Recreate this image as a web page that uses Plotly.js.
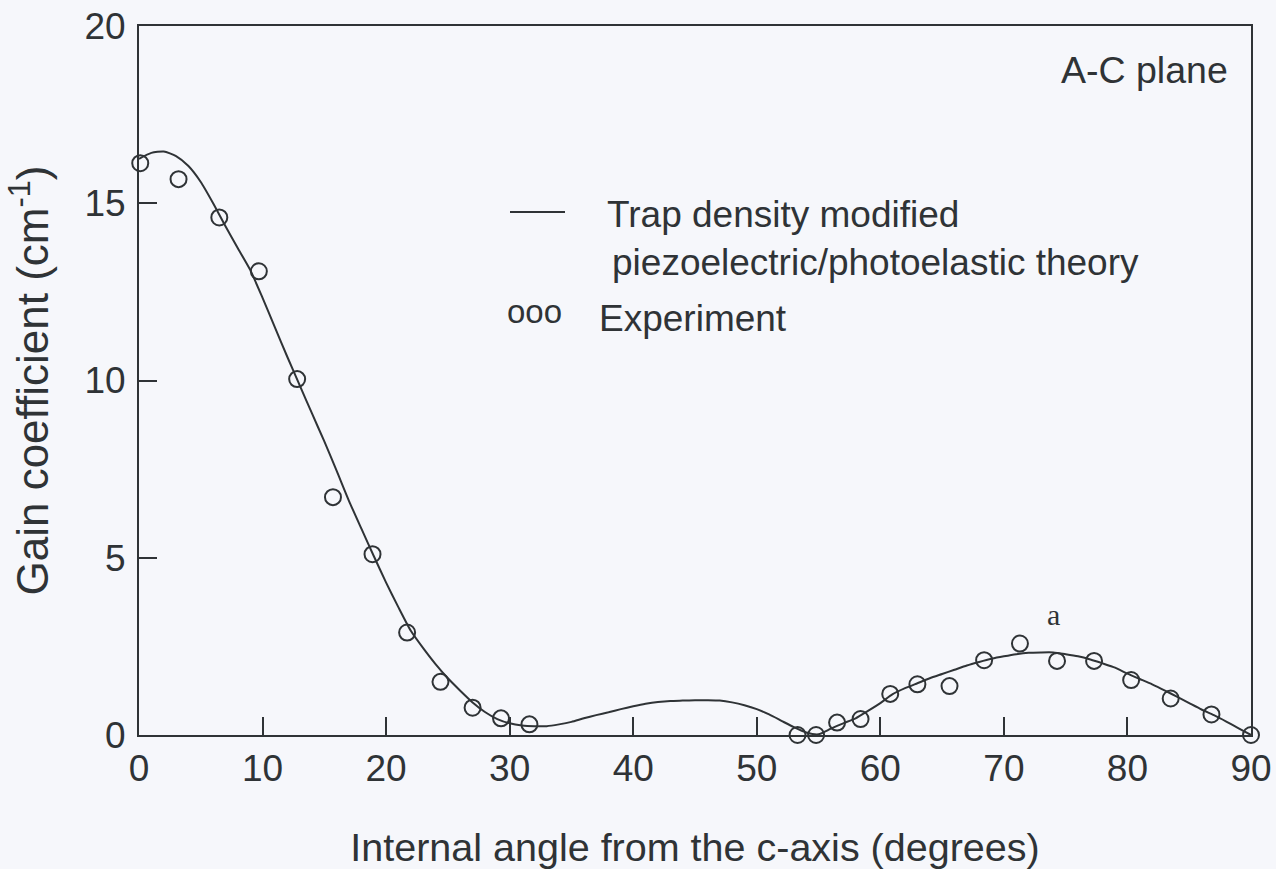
<!DOCTYPE html>
<html>
<head>
<meta charset="utf-8">
<script src="https://cdn.plot.ly/plotly-3.0.1.min.js"></script>
<style>
  html, body { margin: 0; padding: 0; background: #f6f7fb; }
  #chart { width: 1276px; height: 869px; }
</style>
</head>
<body>
<div id="chart"></div>
<script>
// Theory curve (trap density modified piezoelectric/photoelastic theory)
const theoryAngle = [0,1,2,3,4,5,6,7,8,9,10,11,12,13,14,15,16,17,18,19,20,21,22,23,24,25,26,27,28,29,30,31,32,33,34,35,36,37,38,39,40,41,42,43,44,45,46,47,48,49,50,51,52,53,54,55,56,57,58,59,60,61,62,63,64,65,66,67,68,69,70,71,72,73,74,75,76,77,78,79,80,81,82,83,84,85,86,87,88,89,90];
const theoryGain = [16.25,16.42,16.46,16.33,16.05,15.6,15.0,14.35,13.73,13.12,12.33,11.5,10.67,9.87,9.07,8.28,7.45,6.6,5.82,5.05,4.3,3.6,2.94,2.45,2.0,1.6,1.25,0.92,0.65,0.45,0.33,0.27,0.25,0.25,0.3,0.37,0.47,0.56,0.64,0.73,0.81,0.88,0.93,0.96,0.97,0.98,0.98,0.97,0.92,0.84,0.73,0.58,0.4,0.22,0.07,0.02,0.18,0.33,0.47,0.68,0.9,1.15,1.32,1.46,1.6,1.72,1.84,1.96,2.06,2.15,2.22,2.28,2.32,2.33,2.33,2.28,2.22,2.13,2.02,1.9,1.73,1.58,1.43,1.26,1.08,0.9,0.72,0.56,0.38,0.19,0.0];

// Experiment
const expAngle = [0.1,3.2,6.5,9.7,12.8,15.7,18.9,21.7,24.4,27.0,29.3,31.6,53.3,54.8,56.5,58.4,60.8,63.0,65.6,68.4,71.3,74.3,77.3,80.3,83.5,86.8,90.0];
const expGain  = [16.13,15.68,14.6,13.08,10.04,6.71,5.10,2.89,1.50,0.77,0.47,0.30,0.0,0.0,0.35,0.45,1.16,1.43,1.38,2.11,2.58,2.09,2.09,1.55,1.03,0.58,0.0];

// Tick labels
const xTicks = [0,10,20,30,40,50,60,70,80,90];
const yTicks = [0,5,10,15,20];

// Texts
const xTitle = 'Internal angle from the c-axis (degrees)';
const yTitle = 'Gain coefficient (cm<sup>-1</sup>)';
const planeLabel = 'A-C plane';
const theoryName1 = 'Trap density modified';
const theoryName2 = 'piezoelectric/photoelastic theory';
const expSymbol = 'ooo';
const expName = 'Experiment';
const pointLabel = 'a';

const ink = '#2f3336';
const font = 'Arial, "Liberation Sans", sans-serif';

const traces = [
  {
    x: theoryAngle, y: theoryGain, type: 'scatter', mode: 'lines',
    name: theoryName1 + ' ' + theoryName2,
    line: { color: ink, width: 2, shape: 'spline', smoothing: 0.6 },
    cliponaxis: false, showlegend: false
  },
  {
    x: expAngle, y: expGain, type: 'scatter', mode: 'markers',
    name: expName,
    marker: { symbol: 'circle-open', size: 16, color: ink, line: { width: 2, color: ink } },
    cliponaxis: false, showlegend: false
  }
];

const layout = {
  width: 1276, height: 869,
  paper_bgcolor: '#f6f7fb', plot_bgcolor: '#f6f7fb',
  margin: { l: 139, r: 25, t: 26, b: 134 },
  font: { family: font, color: ink },
  showlegend: false,
  xaxis: {
    range: [0, 90], tickvals: xTicks, ticktext: xTicks.map(String),
    ticks: 'inside', ticklen: 18, tickwidth: 2, tickcolor: ink,
    showline: true, linewidth: 2, linecolor: ink, mirror: true,
    showgrid: false, zeroline: false,
    tickfont: { size: 37, color: ink, family: font },
    ticklabelstandoff: 0,
    title: { text: xTitle, font: { size: 39.5, color: ink, family: font }, standoff: 48 },
    automargin: false
  },
  yaxis: {
    range: [0, 20], tickvals: yTicks, ticktext: yTicks.map(String),
    ticks: 'inside', ticklen: 18, tickwidth: 2, tickcolor: ink,
    showline: true, linewidth: 2, linecolor: ink, mirror: true,
    showgrid: false, zeroline: false,
    tickfont: { size: 37, color: ink, family: font },
    ticklabelstandoff: 4,
    title: { text: yTitle, font: { size: 44, color: ink, family: font }, standoff: 22 },
    automargin: false
  },
  shapes: [
    { type: 'line', xref: 'paper', yref: 'paper',
      x0: (510-139)/1112, x1: (565-139)/1112,
      y0: (735-212)/709, y1: (735-212)/709,
      line: { color: ink, width: 2 } }
  ],
  annotations: [
    { x: 88.3, y: 18.75, xref: 'x', yref: 'y', xanchor: 'right', yanchor: 'middle',
      text: planeLabel, showarrow: false, font: { size: 37.5, color: ink, family: font } },
    { x: (605-139)/1112, y: (735-214)/709, xref: 'paper', yref: 'paper', xanchor: 'left', yanchor: 'middle',
      text: theoryName1, showarrow: false, font: { size: 37, color: ink, family: font } },
    { x: (610-139)/1112, y: (735-262)/709, xref: 'paper', yref: 'paper', xanchor: 'left', yanchor: 'middle',
      text: theoryName2, showarrow: false, font: { size: 37, color: ink, family: font } },
    { x: (505-139)/1112, y: (735-311)/709, xref: 'paper', yref: 'paper', xanchor: 'left', yanchor: 'middle',
      text: expSymbol, showarrow: false, font: { size: 33, color: ink, family: font } },
    { x: (597-139)/1112, y: (735-318)/709, xref: 'paper', yref: 'paper', xanchor: 'left', yanchor: 'middle',
      text: expName, showarrow: false, font: { size: 37, color: ink, family: font } },
    { x: 74.0, y: 3.4, xref: 'x', yref: 'y', xanchor: 'center', yanchor: 'middle',
      text: pointLabel, showarrow: false, font: { size: 30, color: ink, family: '"Liberation Serif", "Times New Roman", serif' } }
  ]
};

Plotly.newPlot('chart', traces, layout, { displayModeBar: false, staticPlot: true });
</script>
</body>
</html>
